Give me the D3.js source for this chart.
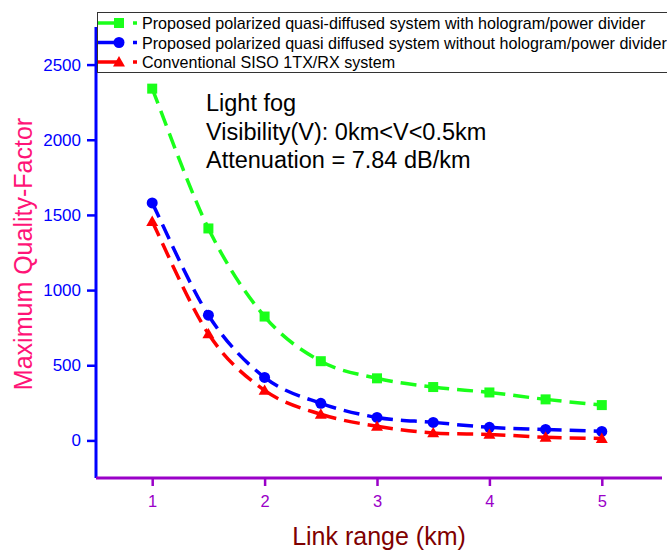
<!DOCTYPE html>
<html>
<head>
<meta charset="utf-8">
<script src="https://cdn.jsdelivr.net/npm/d3@7"></script>
<style>
  body { margin: 0; background: #fff; }
  text { font-family: "Liberation Sans", Arial, sans-serif; }
</style>
</head>
<body>
<script>
const w = 667
const h = 551

// link range (km)
const linkRange = [1, 1.5, 2, 2.5, 3, 3.5, 4, 4.5, 5]
// maximum Q-factor
const withHologram = [2340, 1410, 824, 527, 413, 355, 319, 273, 235]
const withoutHologram = [1580, 833, 419, 247, 153, 120, 87, 73, 60]
const conventional = [1456, 709, 333, 174, 94, 50, 40, 21, 13]

const yTicks = [0, 500, 1000, 1500, 2000, 2500]
const xTicks = [1, 2, 3, 4, 5]

const seriesNames = [
    "Proposed polarized quasi-diffused system with hologram/power divider",
    "Proposed polarized quasi diffused system without hologram/power divider",
    "Conventional SISO 1TX/RX system"
]
const seriesColors = ["#1aff1a", "#0000ff", "#ff0000"]
const seriesShapes = ["square", "circle", "triangle"]

const notes = ["Light fog", "Visibility(V): 0km<V<0.5km", "Attenuation = 7.84 dB/km"]

const svg = d3.select("body")
    .append("svg")
    .attr("width", w)
    .attr("height", h)

const x = d3.scaleLinear().domain([0.5, 5.5]).range([96, 658])
const y = d3.scaleLinear().domain([-250, 2750]).range([478, 27])

// marker drawing helper
const drawMarker = (g, shape, cx, cy, color) => {
    if (shape === "square") {
        g.append("rect")
            .attr("x", cx - 5).attr("y", cy - 5)
            .attr("width", 10).attr("height", 10)
            .attr("fill", color)
    } else if (shape === "circle") {
        g.append("circle")
            .attr("cx", cx).attr("cy", cy).attr("r", 5.5)
            .attr("fill", color)
    } else {
        g.append("path")
            .attr("d", d3.symbol().type(d3.symbolTriangle).size(62)())
            .attr("transform", `translate(${cx},${cy + 1})`)
            .attr("fill", color)
    }
}

// curves, one dashed piece between each pair of points so the dash restarts at every point
const series = [withHologram, withoutHologram, conventional]
const plot = svg.append("g")

series.forEach((vals, s) => {
    const pts = vals.map((v, i) => [x(linkRange[i]), y(v)])
    for (let i = 0; i < pts.length - 1; i++) {
        const p0 = pts[Math.max(i - 1, 0)]
        const p1 = pts[i]
        const p2 = pts[i + 1]
        const p3 = pts[Math.min(i + 2, pts.length - 1)]
        const p = d3.path()
        p.moveTo(p1[0], p1[1])
        p.bezierCurveTo(
            p1[0] + (p2[0] - p0[0]) / 6, p1[1] + (p2[1] - p0[1]) / 6,
            p2[0] - (p3[0] - p1[0]) / 6, p2[1] - (p3[1] - p1[1]) / 6,
            p2[0], p2[1])
        plot.append("path")
            .attr("d", p.toString())
            .attr("fill", "none")
            .attr("stroke", seriesColors[s])
            .attr("stroke-width", 3.5)
            .attr("stroke-dasharray", "16,8")
    }
})

series.forEach((vals, s) => {
    vals.forEach((v, i) => drawMarker(plot, seriesShapes[s], x(linkRange[i]), y(v), seriesColors[s]))
})

// y axis
const yAxis = svg.append("g")
    .attr("transform", `translate(${x(0.5)},0)`)
    .call(d3.axisLeft(y).tickValues(yTicks).tickFormat(d3.format("d")).tickSize(9).tickPadding(6))
yAxis.select(".domain").attr("stroke", "#0000ff").attr("stroke-width", 3)
    .attr("d", `M0,${y(-250)}V${y(2750)}`)
yAxis.selectAll(".tick line").attr("stroke", "#0000ff").attr("stroke-width", 2.5)
yAxis.selectAll(".tick text")
    .attr("fill", "#0000ff")
    .style("font-size", "17px")
    .style("font-family", "'Liberation Sans', Arial, sans-serif")

// x axis
const xAxis = svg.append("g")
    .attr("transform", `translate(0,${y(-250)})`)
    .call(d3.axisBottom(x).tickValues(xTicks).tickFormat(d3.format("d")).tickSize(8).tickPadding(9))
xAxis.select(".domain").attr("stroke", "#9a00c8").attr("stroke-width", 3)
    .attr("d", `M${x(0.5)},0H662`)
xAxis.selectAll(".tick line").attr("stroke", "#9a00c8").attr("stroke-width", 2.5)
xAxis.selectAll(".tick text")
    .attr("fill", "#9a00c8")
    .style("font-size", "16.5px")
    .style("font-family", "'Liberation Sans', Arial, sans-serif")

// axis titles
svg.append("text")
    .attr("transform", "translate(32,254) rotate(-90)")
    .attr("text-anchor", "middle")
    .attr("fill", "#ff1477")
    .style("font-size", "25px")
    .text("Maximum Quality-Factor")

svg.append("text")
    .attr("x", 379)
    .attr("y", 545)
    .attr("text-anchor", "middle")
    .attr("fill", "#7f0000")
    .style("font-size", "25px")
    .text("Link range (km)")

// annotation
notes.forEach((t, i) => {
    svg.append("text")
        .attr("x", 206)
        .attr("y", 111 + i * 28.5)
        .attr("fill", "#000")
        .style("font-size", "23.5px")
        .text(t)
})

// legend
const legend = svg.append("g")
legend.append("rect")
    .attr("x", 97.5).attr("y", 12.5)
    .attr("width", 600).attr("height", 60)
    .attr("fill", "#fff")
    .attr("stroke", "#333")
    .attr("stroke-width", 1)

seriesNames.forEach((name, s) => {
    const cy = 23 + s * 19.5
    legend.append("line")
        .attr("x1", 98).attr("x2", 120)
        .attr("y1", cy).attr("y2", cy)
        .attr("stroke", seriesColors[s]).attr("stroke-width", 3.5)
    legend.append("line")
        .attr("x1", 133).attr("x2", 137)
        .attr("y1", cy).attr("y2", cy)
        .attr("stroke", seriesColors[s]).attr("stroke-width", 3.5)
    drawMarker(legend, seriesShapes[s], 119, cy, seriesColors[s])
    legend.append("text")
        .attr("x", 142)
        .attr("y", cy + 6)
        .attr("fill", "#000")
        .style("font-size", "16.1px")
        .text(name)
})
</script>
</body>
</html>
